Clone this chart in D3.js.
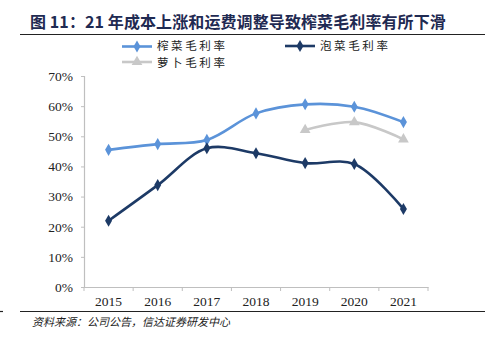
<!DOCTYPE html>
<html><head><meta charset="utf-8">
<script src="https://cdn.jsdelivr.net/npm/d3@7"></script>
<style>
html,body{margin:0;padding:0;background:#fff;}
svg{display:block;}
</style></head>
<body><svg id="c" width="488" height="338"></svg>
<script>
const years = ["2015","2016","2017","2018","2019","2020","2021"];
const zhacai = [45.5, 47.4, 48.8, 57.6, 60.6, 59.8, 54.7];
const paocai = [22.0, 33.8, 46.0, 44.4, 41.1, 40.8, 25.9];
const luobo = [null, null, null, null, 52.1, 54.7, 49.0];
const yTicks = [0,10,20,30,40,50,60,70];
const seriesNames = ["榨菜毛利率","泡菜毛利率","萝卜毛利率"];
const titleText = "图 11：21 年成本上涨和运费调整导致榨菜毛利率有所下滑";
const sourceText = "资料来源：公司公告，信达证券研发中心";

const svg = d3.select("#c");
const x = d3.scaleBand().domain(years).range([84,428]);
const y = d3.scaleLinear().domain([0,70]).range([287,76]);
const serif = "'Liberation Serif','Times New Roman',serif";
const cjk = "'Noto Sans CJK SC',sans-serif";

// title
svg.append("text").attr("x",30).attr("y",28).attr("fill","#1F2A52")
  .attr("font-family",cjk).attr("font-weight","bold").attr("font-size",16)
  .attr("letter-spacing",0.1)
  .text(titleText);
svg.append("line").attr("x1",20).attr("x2",485).attr("y1",34.5).attr("y2",34.5)
  .attr("stroke","#222").attr("stroke-width",1.2);

// axes
const gy = svg.append("g").attr("transform","translate(84,0)")
  .call(d3.axisLeft(y).tickValues(yTicks).tickSize(3).tickFormat(d=>d+"%"));
const gx = svg.append("g").attr("transform","translate(0,287)")
  .call(d3.axisBottom(x).tickSize(0));
[gy,gx].forEach(g=>{
  g.select(".domain").attr("stroke","#BFBFBF").attr("stroke-width",1.2);
  g.selectAll(".tick line").attr("stroke","#BFBFBF");
  g.selectAll("text").attr("font-family",serif).attr("font-size",13.5).attr("fill","#222");
});
gy.selectAll("text").attr("x",-11);
gx.selectAll("text").attr("dy","1.2em");
// x tick marks at band boundaries
const bounds = years.map(d=>x(d)).concat([x.range()[1]]);
gx.selectAll(".bt").data(bounds).enter().append("line")
  .attr("x1",d=>d).attr("x2",d=>d).attr("y1",0).attr("y2",4)
  .attr("stroke","#BFBFBF");

const cx = d=>x(d)+x.bandwidth()/2;
const series = [
  {name:seriesNames[0], vals:zhacai, color:"#5B93D9", marker:"diamond"},
  {name:seriesNames[1], vals:paocai, color:"#1D3A66", marker:"diamond"},
  {name:seriesNames[2], vals:luobo, color:"#C8C8C8", marker:"triangle"}
];
const line = d3.line().defined(d=>d.v!=null).x(d=>cx(d.k)).y(d=>y(d.v))
  .curve(d3.curveCatmullRom.alpha(0.5));
const sym = {diamond:d3.symbol().type(d3.symbolDiamond).size(42),
             triangle:d3.symbol().type(d3.symbolTriangle).size(50)};
series.forEach(s=>{
  const pts = years.map((k,i)=>({k, v:s.vals[i]}));
  svg.append("path").datum(pts).attr("d",line).attr("fill","none")
    .attr("stroke",s.color).attr("stroke-width",2.6);
  svg.selectAll(null).data(pts.filter(p=>p.v!=null)).enter().append("path")
    .attr("d",sym[s.marker]).attr("fill",s.color)
    .attr("transform",p=>`translate(${cx(p.k)},${y(p.v)})`);
});

// legend
const leg = [
  {s:series[0], x:122, y:46.5, ty:50},
  {s:series[1], x:285, y:46, ty:50},
  {s:series[2], x:122, y:62, ty:67}
];
leg.forEach(l=>{
  svg.append("line").attr("x1",l.x).attr("x2",l.x+30).attr("y1",l.y).attr("y2",l.y)
    .attr("stroke",l.s.color).attr("stroke-width",2.6);
  svg.append("path").attr("d",sym[l.s.marker]).attr("fill",l.s.color)
    .attr("transform",`translate(${l.x+15},${l.y})`);
  svg.append("text").attr("x",l.x+35).attr("y",l.ty).attr("font-family",cjk)
    .attr("font-size",11.5).attr("letter-spacing",2.6).attr("fill","#222").text(l.s.name);
});

// source
svg.append("line").attr("x1",20).attr("x2",485).attr("y1",311.5).attr("y2",311.5)
  .attr("stroke","#222").attr("stroke-width",1.2);
svg.append("line").attr("x1",0).attr("x2",3).attr("y1",311.5).attr("y2",311.5)
  .attr("stroke","#222").attr("stroke-width",1.2);
svg.append("text").attr("x",32).attr("y",326).attr("font-family",cjk)
  .attr("font-size",11).attr("font-style","italic").attr("fill","#222").text(sourceText);
</script></body></html>
